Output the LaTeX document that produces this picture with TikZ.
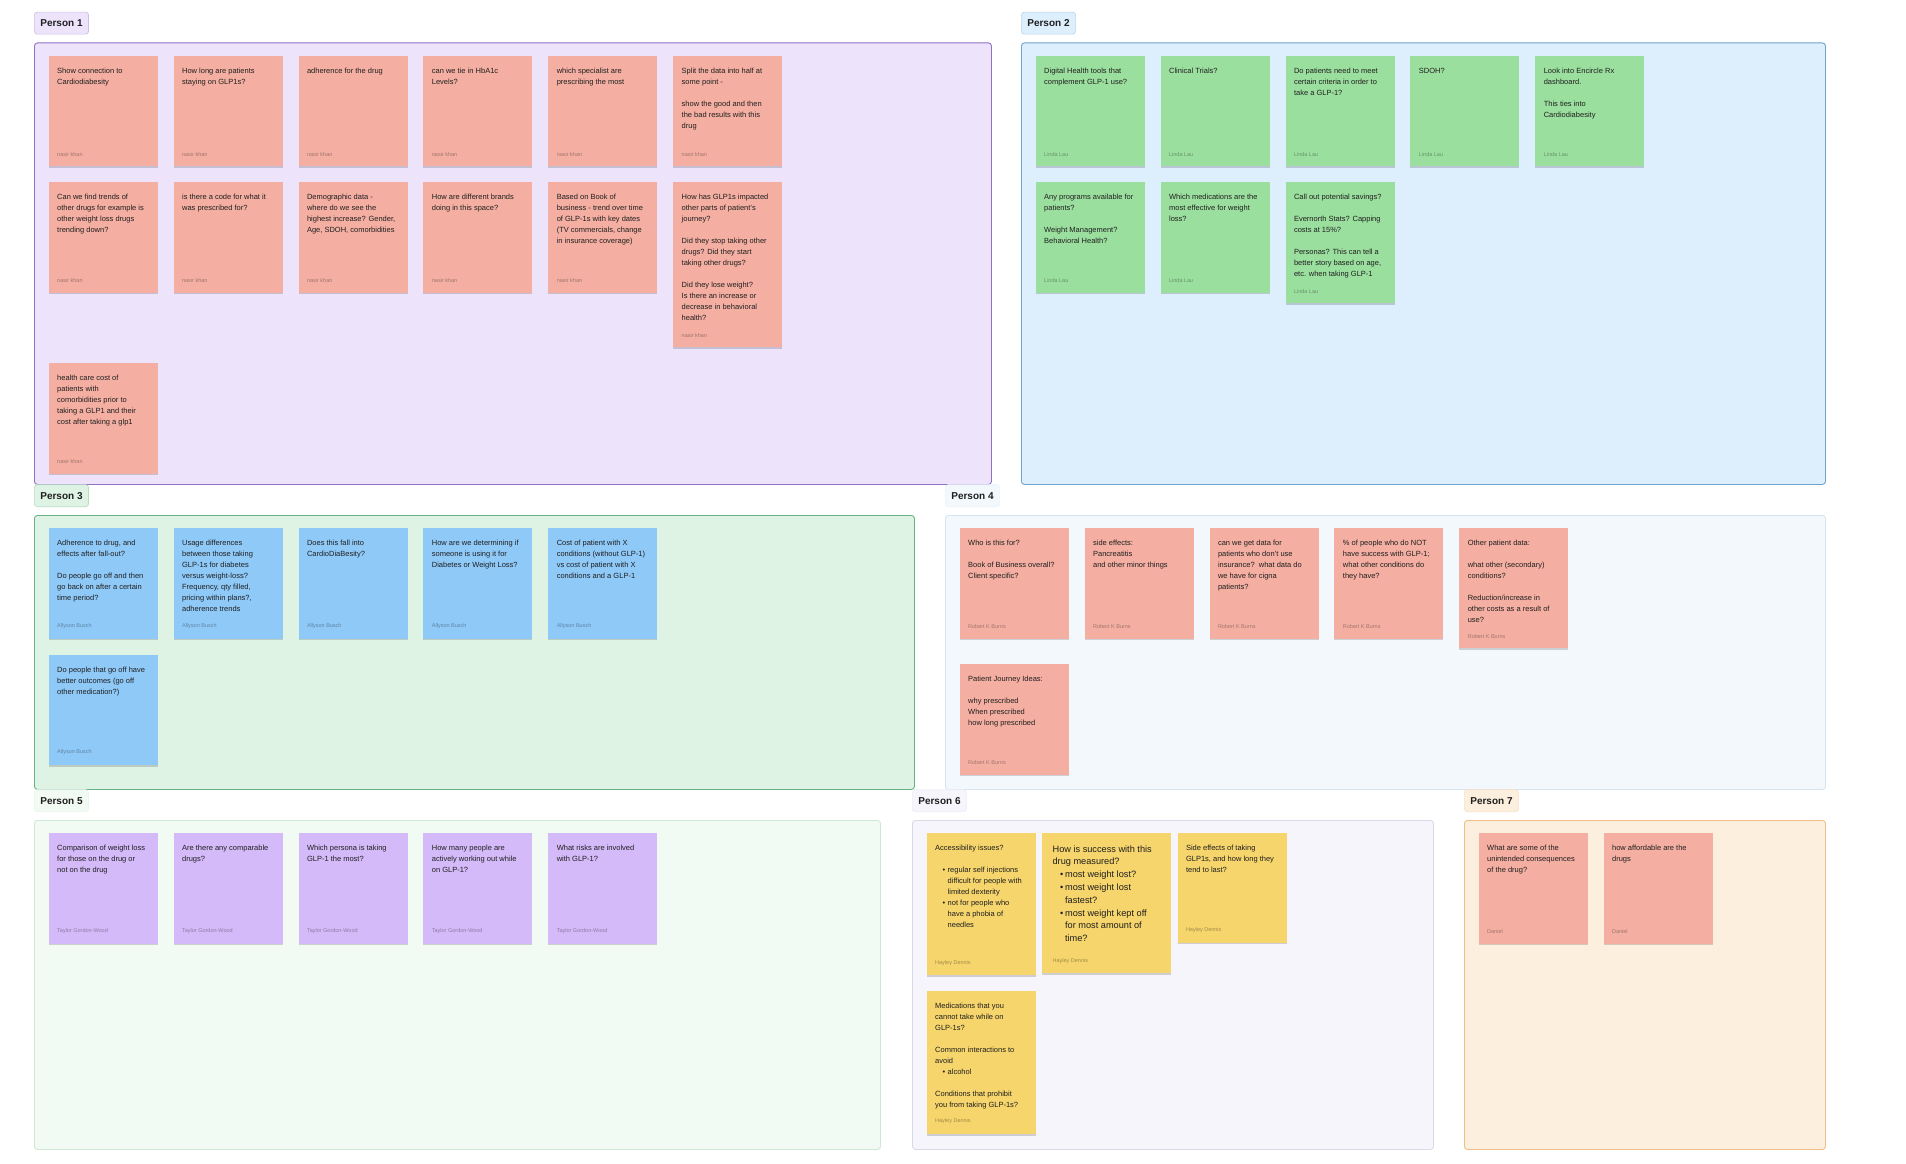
\documentclass[tikz,border=0pt]{standalone}
\usepackage{fontspec}
\setmainfont{Liberation Sans}
\usetikzlibrary{positioning,calc,shadows}
\definecolor{salmon}{HTML}{F4AFA2}
\definecolor{mint}{HTML}{9BDF9F}
\definecolor{sky}{HTML}{8FC9F8}
\definecolor{lilac}{HTML}{D4BAF8}
\definecolor{butter}{HTML}{F6D56C}
\definecolor{inkC}{HTML}{1F1F1F}
\definecolor{backA}{HTML}{EDE4FC}\definecolor{lineA}{HTML}{8F72C6}
\definecolor{backB}{HTML}{DDEEFD}\definecolor{lineB}{HTML}{6FA3CB}
\definecolor{backC}{HTML}{DFF3E5}\definecolor{lineC}{HTML}{66B283}
\definecolor{backD}{HTML}{F3F8FD}\definecolor{lineD}{HTML}{D6E4F0}
\definecolor{backE}{HTML}{F2FAF4}\definecolor{lineE}{HTML}{CFE8D6}
\definecolor{backF}{HTML}{F6F5FC}\definecolor{lineF}{HTML}{DAD9EA}
\definecolor{backG}{HTML}{FCEFDE}\definecolor{lineG}{HTML}{EFBE84}
\newcommand{\card}[4][92pt]{%
  \begin{minipage}[t][#2][t]{#1}\noindent
    \begin{tabular}[t]{@{}l@{}}#3\end{tabular}\par\vfill\noindent
    {\fontsize{5.5}{6.5}\selectfont\color{authc}#4}%
  \end{minipage}}
\newcommand{\dotitem}{\hspace*{7.5pt}\makebox[5pt][l]{\textbullet}}
\newcommand{\dotcont}{\hspace*{12.5pt}}
\tikzset{
  sticky/.style={rectangle, fill=#1, inner xsep=8.5pt, inner ysep=10pt, text=inkC,
                 font=\fontsize{7.5}{11}\selectfont,
                 drop shadow={shadow xshift=0pt, shadow yshift=-1.5pt, opacity=0.16, fill=black},
                 execute at begin node={\colorlet{authc}{#1!66!black}}},
  frame/.style={rectangle, rounded corners=3pt, draw=#1, line width=0.9pt, inner sep=0pt,
                anchor=north west},
  tag/.style 2 args={rectangle, rounded corners=3pt, fill=#1, draw=#2!45, line width=0.7pt,
                     minimum height=22pt, inner xsep=6pt, inner ysep=0pt, text=inkC,
                     font=\fontsize{10}{12}\selectfont\bfseries},
  first/.style={anchor=north west, at={($(#1.north west)+(14.5,13)$)}},
  nextr/.style={right=of #1.north east, anchor=north west},
  nextd/.style={below=of #1.south west, anchor=north west},
}
\begin{document}
\begin{tikzpicture}[x=1pt, y=-1pt, node distance=15.5pt]
  \useasboundingbox (0,0) rectangle (1906,1164);
  \fill[white] (0,0) rectangle (1906,1164);

  \node[frame=lineA, fill=backA, minimum width=957pt, minimum height=441.5pt] (fA) at (34,42.5) {};
  \node[frame=lineB, fill=backB, minimum width=804pt, minimum height=441.5pt] (fB) at (1021,42.5) {};
  \node[frame=lineC, fill=backC, minimum width=880pt, minimum height=274pt] (fC) at (34,515) {};
  \node[frame=lineD, fill=backD, minimum width=880pt, minimum height=274pt] (fD) at (945,515) {};
  \node[frame=lineE, fill=backE, minimum width=846pt, minimum height=329pt] (fE) at (34,820) {};
  \node[frame=lineF, fill=backF, minimum width=521pt, minimum height=329pt] (fF) at (912,820) {};
  \node[frame=lineG, fill=backG, minimum width=361pt, minimum height=329pt] (fG) at (1464,820) {};

  \node[tag={backA}{lineA}, above=8pt of fA.north west, anchor=south west] (tA) {Person 1};
  \node[tag={backB}{lineB}, above=8pt of fB.north west, anchor=south west] (tB) {Person 2};
  \node[tag={backC}{lineC}, above=8pt of fC.north west, anchor=south west] (tC) {Person 3};
  \node[tag={backD}{lineD}, above=8pt of fD.north west, anchor=south west] (tD) {Person 4};
  \node[tag={backE}{lineE}, above=8pt of fE.north west, anchor=south west] (tE) {Person 5};
  \node[tag={backF}{lineF}, above=8pt of fF.north west, anchor=south west] (tF) {Person 6};
  \node[tag={backG}{lineG}, above=8pt of fG.north west, anchor=south west] (tG) {Person 7};

  % Person 1
  \node[sticky=salmon, first=fA] (p1a) {\card{90.5pt}{Show connection to\\Cardiodiabesity}{nasir khan}};
  \node[sticky=salmon, nextr=p1a] (p1b) {\card{90.5pt}{How long are patients\\staying on GLP1s?}{nasir khan}};
  \node[sticky=salmon, nextr=p1b] (p1c) {\card{90.5pt}{adherence for the drug}{nasir khan}};
  \node[sticky=salmon, nextr=p1c] (p1d) {\card{90.5pt}{can we tie in HbA1c\\Levels?}{nasir khan}};
  \node[sticky=salmon, nextr=p1d] (p1e) {\card{90.5pt}{which specialist are\\prescribing the most}{nasir khan}};
  \node[sticky=salmon, nextr=p1e] (p1f) {\card{90.5pt}{Split the data into half at\\some point -\\ \\show the good and then\\the bad results with this\\drug}{nasir khan}};
  \node[sticky=salmon, nextd=p1a] (p1g) {\card{90.5pt}{Can we find trends of\\other drugs for example is\\other weight loss drugs\\trending down?}{nasir khan}};
  \node[sticky=salmon, nextr=p1g] (p1h) {\card{90.5pt}{is there a code for what it\\was prescribed for?}{nasir khan}};
  \node[sticky=salmon, nextr=p1h] (p1i) {\card{90.5pt}{Demographic data -\\where do we see the\\highest increase? Gender,\\Age, SDOH, comorbidities}{nasir khan}};
  \node[sticky=salmon, nextr=p1i] (p1j) {\card{90.5pt}{How are different brands\\doing in this space?}{nasir khan}};
  \node[sticky=salmon, nextr=p1j] (p1k) {\card{90.5pt}{Based on Book of\\business - trend over time\\of GLP-1s with key dates\\(TV commercials, change\\in insurance coverage)}{nasir khan}};
  \node[sticky=salmon, nextr=p1k] (p1l) {\card{145pt}{How has GLP1s impacted\\other parts of patient's\\journey?\\ \\Did they stop taking other\\drugs? Did they start\\taking other drugs?\\ \\Did they lose weight?\\Is there an increase or\\decrease in behavioral\\health?}{nasir khan}};
  \node[sticky=salmon, anchor=north west] (p1m) at ($(p1g.west |- p1l.south)+(0,15.5)$)
    {\card{90.5pt}{health care cost of\\patients with\\comorbidities prior to\\taking a GLP1 and their\\cost after taking a glp1}{nasir khan}};

  % Person 2
  \node[sticky=mint, first=fB] (p2a) {\card{90.5pt}{Digital Health tools that\\complement GLP-1 use?}{Linda Lau}};
  \node[sticky=mint, nextr=p2a] (p2b) {\card{90.5pt}{Clinical Trials?}{Linda Lau}};
  \node[sticky=mint, nextr=p2b] (p2c) {\card{90.5pt}{Do patients need to meet\\certain criteria in order to\\take a GLP-1?}{Linda Lau}};
  \node[sticky=mint, nextr=p2c] (p2d) {\card{90.5pt}{SDOH?}{Linda Lau}};
  \node[sticky=mint, nextr=p2d] (p2e) {\card{90.5pt}{Look into Encircle Rx\\dashboard.\\ \\This ties into\\Cardiodiabesity}{Linda Lau}};
  \node[sticky=mint, nextd=p2a] (p2f) {\card{90.5pt}{Any programs available for\\patients?\\ \\Weight Management?\\Behavioral Health?}{Linda Lau}};
  \node[sticky=mint, nextr=p2f] (p2g) {\card{90.5pt}{Which medications are the\\most effective for weight\\loss?}{Linda Lau}};
  \node[sticky=mint, nextr=p2g] (p2h) {\card{101pt}{Call out potential savings?\\ \\Evernorth Stats? Capping\\costs at 15\%?\\ \\Personas? This can tell a\\better story based on age,\\etc. when taking GLP-1}{Linda Lau}};

  % Person 3
  \node[sticky=sky, first=fC] (p3a) {\card{90.5pt}{Adherence to drug, and\\effects after fall-out?\\ \\Do people go off and then\\go back on after a certain\\time period?}{Allyson Busch}};
  \node[sticky=sky, nextr=p3a] (p3b) {\card{90.5pt}{Usage differences\\between those taking\\GLP-1s for diabetes\\versus weight-loss?\\Frequency, qty filled,\\pricing within plans?,\\adherence trends}{Allyson Busch}};
  \node[sticky=sky, nextr=p3b] (p3c) {\card{90.5pt}{Does this fall into\\CardioDiaBesity?}{Allyson Busch}};
  \node[sticky=sky, nextr=p3c] (p3d) {\card{90.5pt}{How are we determining if\\someone is using it for\\Diabetes or Weight Loss?}{Allyson Busch}};
  \node[sticky=sky, nextr=p3d] (p3e) {\card{90.5pt}{Cost of patient with X\\conditions (without GLP-1)\\vs cost of patient with X\\conditions and a GLP-1}{Allyson Busch}};
  \node[sticky=sky, nextd=p3a] (p3f) {\card{90.5pt}{Do people that go off have\\better outcomes (go off\\other medication?)}{Allyson Busch}};

  % Person 4
  \node[sticky=salmon, first=fD] (p4a) {\card{90.5pt}{Who is this for?\\ \\Book of Business overall?\\Client specific?}{Robert K Burns}};
  \node[sticky=salmon, nextr=p4a] (p4b) {\card{90.5pt}{side effects:\\Pancreatitis\\and other minor things}{Robert K Burns}};
  \node[sticky=salmon, nextr=p4b] (p4c) {\card{90.5pt}{can we get data for\\patients who don't use\\insurance?\ \ what data do\\we have for cigna\\patients?}{Robert K Burns}};
  \node[sticky=salmon, nextr=p4c] (p4d) {\card{90.5pt}{\% of people who do NOT\\have success with GLP-1;\\what other conditions do\\they have?}{Robert K Burns}};
  \node[sticky=salmon, nextr=p4d] (p4e) {\card{100pt}{Other patient data:\\ \\what other (secondary)\\conditions?\\ \\Reduction/increase in\\other costs as a result of\\use?}{Robert K Burns}};
  \node[sticky=salmon, anchor=north west] (p4f) at ($(p4a.west |- p4e.south)+(0,15.5)$)
    {\card{90.5pt}{Patient Journey Ideas:\\ \\why prescribed\\When prescribed\\how long prescribed}{Robert K Burns}};

  % Person 5
  \node[sticky=lilac, first=fE] (p5a) {\card{90.5pt}{Comparison of weight loss\\for those on the drug or\\not on the drug}{Taylor Gordon-Wood}};
  \node[sticky=lilac, nextr=p5a] (p5b) {\card{90.5pt}{Are there any comparable\\drugs?}{Taylor Gordon-Wood}};
  \node[sticky=lilac, nextr=p5b] (p5c) {\card{90.5pt}{Which persona is taking\\GLP-1 the most?}{Taylor Gordon-Wood}};
  \node[sticky=lilac, nextr=p5c] (p5d) {\card{90.5pt}{How many people are\\actively working out while\\on GLP-1?}{Taylor Gordon-Wood}};
  \node[sticky=lilac, nextr=p5d] (p5e) {\card{90.5pt}{What risks are involved\\with GLP-1?}{Taylor Gordon-Wood}};

  % Person 6
  \node[sticky=butter, first=fF] (p6a) {\card{122pt}{Accessibility issues?\\ \\\dotitem regular self injections\\\dotcont difficult for people with\\\dotcont limited dexterity\\\dotitem not for people who\\\dotcont have a phobia of\\\dotcont needles}{Hayley Dennis}};
  \node[sticky=butter, right=6pt of p6a.north east, anchor=north west, inner xsep=10.5pt,
        font=\fontsize{9.2}{12.8}\selectfont] (p6b)
    {\card[108pt]{120pt}{How is success with this\\drug measured?\\\dotitem most weight lost?\\\dotitem most weight lost\\\dotcont fastest?\\\dotitem most weight kept off\\\dotcont for most amount of\\\dotcont time?}{Hayley Dennis}};
  \node[sticky=butter, right=6pt of p6b.north east, anchor=north west] (p6c) {\card{89.5pt}{Side effects of taking\\GLP1s, and how long they\\tend to last?}{Hayley Dennis}};
  \node[sticky=butter, nextd=p6a] (p6d) {\card{123pt}{Medications that you\\cannot take while on\\GLP-1s?\\ \\Common interactions to\\avoid\\\dotitem alcohol\\ \\Conditions that prohibit\\you from taking GLP-1s?}{Hayley Dennis}};

  % Person 7
  \node[sticky=salmon, first=fG] (p7a) {\card{90.5pt}{What are some of the\\unintended consequences\\of the drug?}{Daniel}};
  \node[sticky=salmon, nextr=p7a] (p7b) {\card{90.5pt}{how affordable are the\\drugs}{Daniel}};
\end{tikzpicture}
\end{document}
